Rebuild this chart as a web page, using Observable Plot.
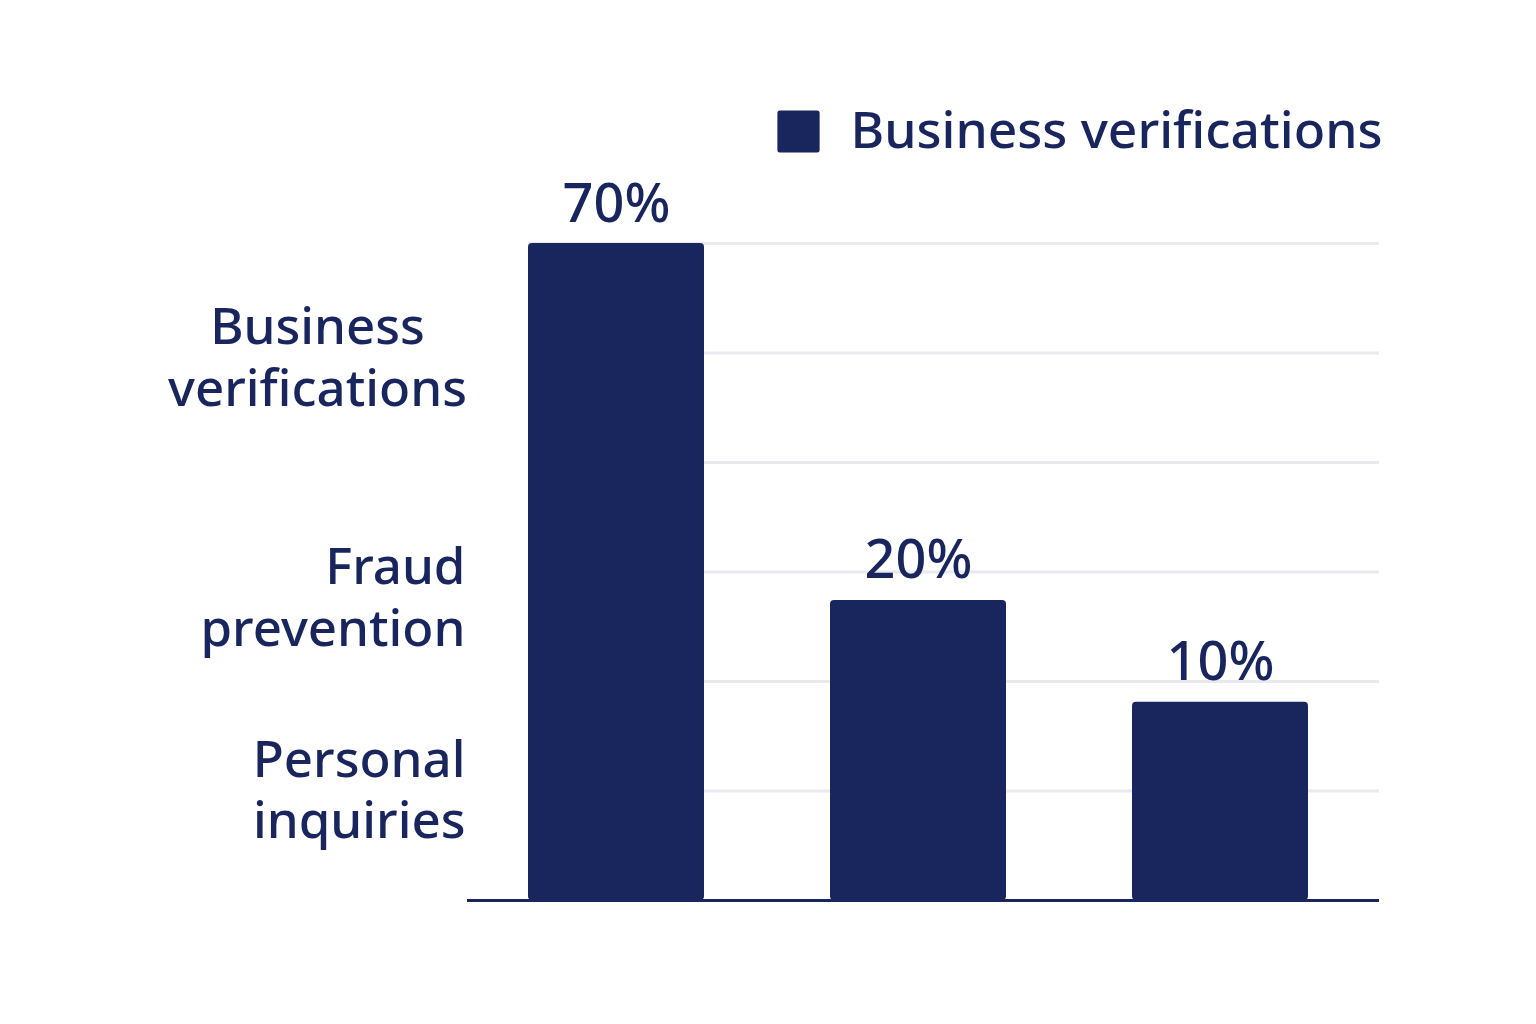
<!DOCTYPE html>
<html>
<head>
<meta charset="utf-8">
<script src="https://cdn.jsdelivr.net/npm/d3@7"></script>
<script src="https://cdn.jsdelivr.net/npm/@observablehq/plot@0.6"></script>
<style>
  html, body { margin: 0; padding: 0; background: #fff; }
  #chart { width: 1536px; height: 1024px; }
</style>
</head>
<body>
<div id="chart"></div>
<script>
// Data
const categories = ["Business verifications", "Fraud prevention", "Personal inquiries"];
const shareLabels = ["70%", "20%", "10%"];
// bar heights as drawn, in gridline units (baseline = 0, top gridline = 6)
const barHeights = [6.0, 2.74, 1.81];
const gridTicks = [1, 2, 3, 4, 5, 6];
// the left-hand category labels and where they sit on the vertical scale
const sideLabels = ["Business\nverifications", "Fraud\nprevention", "Personal\ninquiries"];
const sideLabelAt = [4.98, 2.79, 1.03];
const legendLabel = "Business verifications";

const navy = "#19255d";
const grid = "#e9e9f0";
const font = "'Noto Sans', 'Open Sans', sans-serif";

const bars = categories.map((c, i) => ({category: c, height: barHeights[i], label: shareLabels[i]}));
const side = sideLabels.map((t, i) => ({text: t, at: sideLabelAt[i]}));

const chart = Plot.plot({
  width: 1536,
  height: 1024,
  marginLeft: 528,
  marginRight: 157,
  marginTop: 243,
  marginBottom: 124,
  style: {fontFamily: font, color: navy, background: "#fff", overflow: "visible"},
  x: {type: "band", domain: categories, paddingInner: 0.417, paddingOuter: 0.117, align: 0, axis: null},
  y: {domain: [0, 6], axis: null},
  marks: [
    Plot.ruleY(gridTicks, {stroke: grid, strokeWidth: 3}),
    Plot.barY(bars, {x: "category", y: "height", fill: navy, rx: 4}),
    Plot.ruleY([0], {stroke: navy, strokeWidth: 3, insetLeft: -61}),
    Plot.text(bars, {x: "category", y: "height", text: "label", lineAnchor: "bottom", dy: -22,
      fontSize: 54, fontWeight: 500, fill: navy}),
    // side labels
    Plot.text(side.slice(0, 1), {y: "at", text: "text", frameAnchor: "left", textAnchor: "middle",
      dx: -211, lineAnchor: "middle", lineHeight: 1.21, fontSize: 51, fontWeight: 500, fill: navy}),
    Plot.text(side.slice(1), {y: "at", text: "text", frameAnchor: "left", textAnchor: "end",
      dx: -63, lineAnchor: "middle", lineHeight: 1.21, fontSize: 51, fontWeight: 500, fill: navy}),
    // legend
    Plot.dot([legendLabel], {frameAnchor: "top-left", dx: 270, dy: -112, symbol: "square", r: 21,
      fill: navy, stroke: navy, strokeWidth: 5, strokeLinejoin: "round"}),
    Plot.text([legendLabel], {frameAnchor: "top-left", dx: 322, dy: -112, text: d => d,
      textAnchor: "start", lineAnchor: "middle", fontSize: 51.5, fontWeight: 500, fill: navy})
  ]
});
document.getElementById("chart").appendChild(chart);
</script>
</body>
</html>
